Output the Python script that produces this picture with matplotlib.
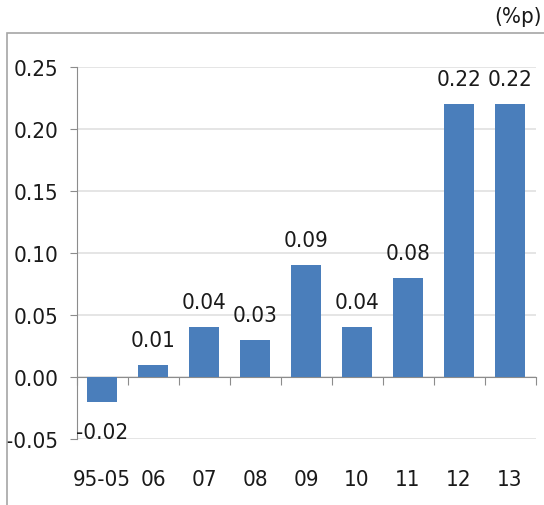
import numpy as np
import matplotlib
matplotlib.use('Agg')
import matplotlib.pyplot as plt
from matplotlib.patches import Rectangle
from matplotlib.transforms import blended_transform_factory

plt.rcParams['font.family'] = ['DejaVu Sans']
plt.rcParams['font.stretch'] = 'condensed'

years = ['95-05', '06', '07', '08', '09', '10', '11', '12', '13']
values = [-0.02, 0.01, 0.04, 0.03, 0.09, 0.04, 0.08, 0.22, 0.22]
yticks = [-0.05, 0.00, 0.05, 0.10, 0.15, 0.20, 0.25]

W, H = 544, 506
fig = plt.figure(figsize=(W / 100, H / 100), dpi=100)
ax = fig.add_axes([76.5 / W, 1 - 440 / H, 459 / W, (440 - 68) / H])

# outer box
fig.patches.append(Rectangle((7 / W, -0.1), 1.2, 1 - 34 / H + 0.1,
                             transform=fig.transFigure, fill=False,
                             edgecolor='#a6a6a6', lw=1.2))
fig.text(542 / W, 1 - 17 / H, '(%p)', ha='right', va='center',
         fontsize=16, color='#1a1a1a')

x = np.arange(len(years))
ax.bar(x, values, width=0.57, color='#4a7ebb', zorder=3)

ax.set_xlim(-0.5, len(years) - 0.5)
ax.set_ylim(-0.05, 0.25)
ax.set_yticks(yticks)
ax.set_yticklabels([f'{t:.2f}' for t in yticks], fontsize=16, color='#1a1a1a')
ax.yaxis.grid(True, color='#e0e0e0', lw=1.2)
ax.set_axisbelow(True)

for s in ['top', 'right']:
    ax.spines[s].set_visible(False)
ax.spines['left'].set_color('#8c8c8c')
ax.spines['bottom'].set_color('#8c8c8c')
ax.spines['bottom'].set_position(('data', 0))

ax.set_xticks(np.arange(len(years) + 1) - 0.5)
ax.set_xticklabels([])
ax.tick_params(axis='x', length=6, color='#8c8c8c', direction='out')
ax.tick_params(axis='y', length=5, color='#8c8c8c', pad=8)

tr = blended_transform_factory(ax.transData, ax.transAxes)
for xi, lab in zip(x, years):
    ax.text(xi, -40 / 372, lab, transform=tr, ha='center', va='center',
            fontsize=16, color='#1a1a1a')

for xi, v in zip(x, values):
    off = 25 if v >= 0 else -30
    ax.annotate(f'{v:.2f}', (xi, v), xytext=(0, off),
                textcoords='offset pixels', ha='center', va='center',
                fontsize=16, color='#1a1a1a')

fig.savefig('out.png', dpi=100)
